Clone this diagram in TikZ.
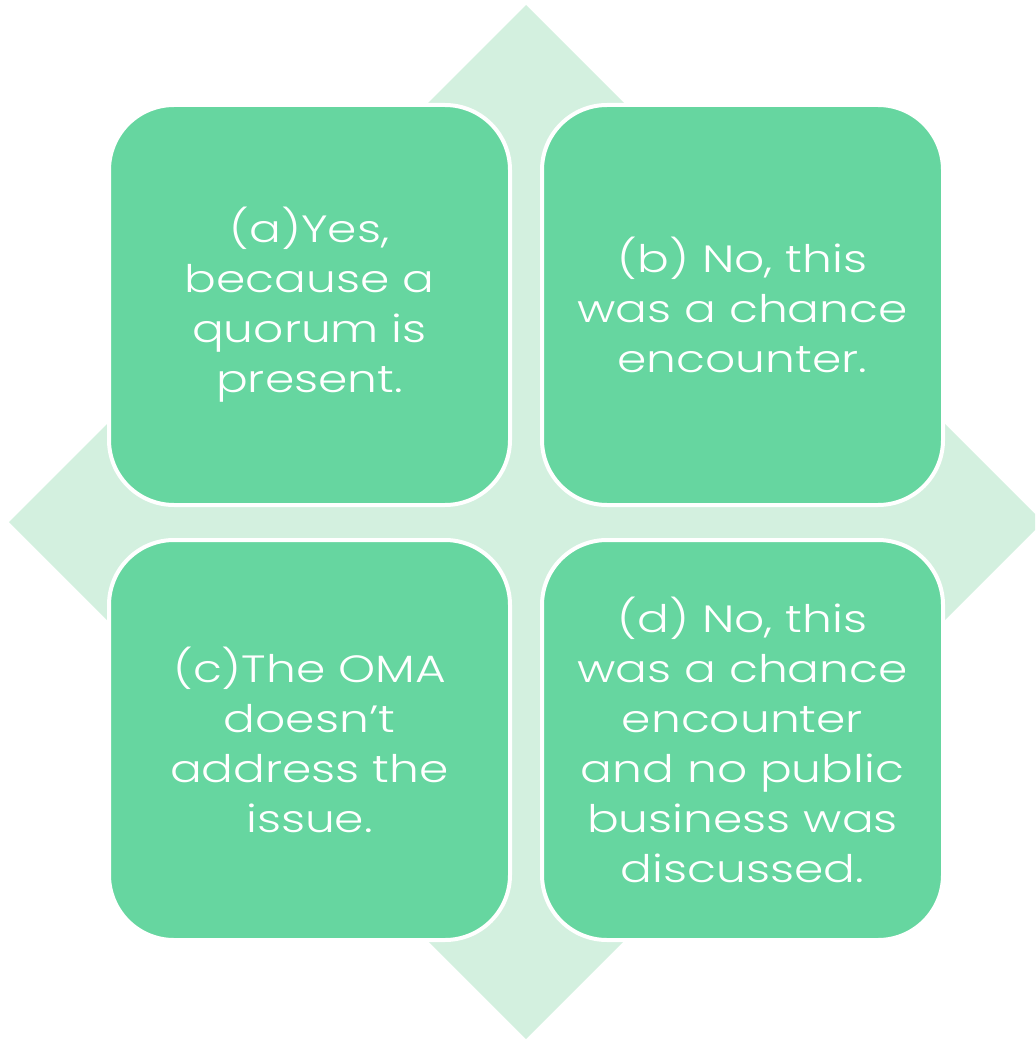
\documentclass[tikz,border=0pt]{standalone}
\usepackage{fontspec}
\setmainfont{Poppins}[UprightFont=* Light, FakeStretch=1.24]
\definecolor{boxgreen}{HTML}{66D6A0}
\definecolor{diamondgreen}{HTML}{D3F0DF}
\begin{document}
\begin{tikzpicture}[x=1pt,y=-1pt,
  card/.style={fill=boxgreen,draw=white,line width=4pt,rounded corners=65pt},
  cardtext/.style={text=white,align=center,font=\fontsize{38}{50}\selectfont,inner sep=0pt}]
\useasboundingbox (0,0) rectangle (1035,1040);
\begin{scope}
\clip (0,0) rectangle (1035,1040);
\fill[diamondgreen] (526,5) -- (1043,522) -- (526,1039) -- (9,522) -- cycle;
\end{scope}
\draw[card] (109,105) rectangle (510,505);
\draw[card] (542,105) rectangle (943,505);
\draw[card] (109,540) rectangle (510,940);
\draw[card] (542,540) rectangle (943,940);
\node[cardtext] (a) at (309.5,305) {(a)Yes,\\because a\\quorum is\\present.};
\node[cardtext] (b) at (742.5,305) {(b) No, this\\was a chance\\encounter.};
\node[cardtext] (c) at (309.5,740) {(c)The OMA\\doesn’t\\address the\\issue.};
\node[cardtext] (d) at (742.5,740) {(d) No, this\\was a chance\\encounter\\and no public\\business was\\discussed.};
\end{tikzpicture}
\end{document}
